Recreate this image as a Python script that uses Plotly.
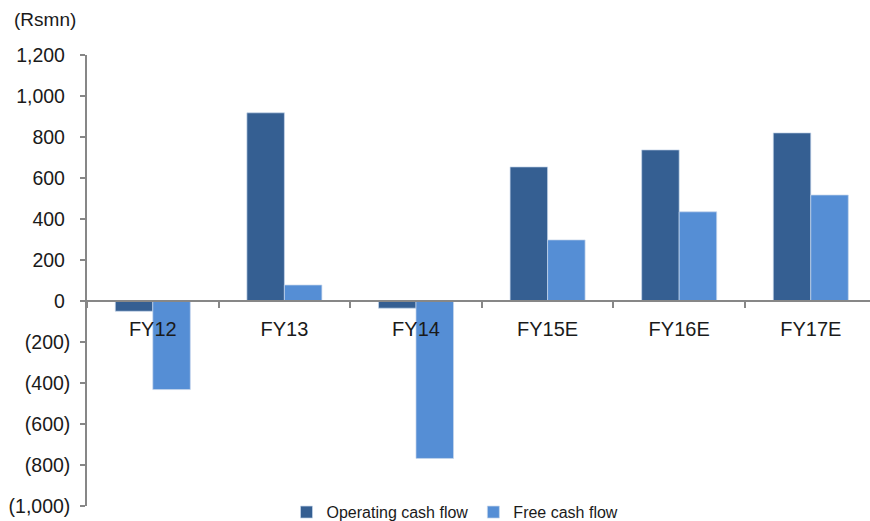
import plotly.graph_objects as go

# Cash flow summary (Rs mn)
years = ["FY12", "FY13", "FY14", "FY15E", "FY16E", "FY17E"]
operating_cf = [-50, 918, -35, 654, 737, 820]
free_cf = [-432, 78, -768, 298, 435, 517]

y_ticks = [1200, 1000, 800, 600, 400, 200, 0, -200, -400, -600, -800, -1000]
y_tick_text = ["1,200", "1,000", "800", "600", "400", "200", "0",
               "(200)", "(400)", "(600)", "(800)", "(1,000)"]

DARK = "#355f92"
LIGHT = "#558ed5"
AXIS = "#878787"
FONT = "Liberation Sans, Arial, sans-serif"

# accounting-style alignment: positives leave room for the closing bracket
y_tick_labels = [t if t.startswith("(") else t + "\u00a0" for t in y_tick_text]

fig = go.Figure()
fig.add_trace(go.Bar(
    x=years, y=operating_cf, name="Operating cash flow",
    marker=dict(color=DARK, line=dict(color="rgba(200,215,235,0.7)", width=1)),
))
fig.add_trace(go.Bar(
    x=years, y=free_cf, name="Free cash flow",
    marker=dict(color=LIGHT, line=dict(color="rgba(200,215,235,0.7)", width=1)),
))

y_min, y_max = -1000, 1200
zero_pos = (0 - y_min) / (y_max - y_min)

fig.update_layout(
    width=870, height=521,
    margin=dict(l=87, r=0, t=55, b=15, autoexpand=False),
    paper_bgcolor="white", plot_bgcolor="white",
    font=dict(family=FONT, color="#1a1a1a", size=20),
    barmode="group", bargap=0.43, bargroupgap=0,
    showlegend=True,
    legend=dict(
        orientation="h", xanchor="center", x=0.47,
        yanchor="top", y=0.024,
        font=dict(size=16, family=FONT),
        bgcolor="rgba(0,0,0,0)", itemclick=False,
    ),
    xaxis=dict(
        type="category", range=[-0.5, 5.45],
        anchor="free", position=zero_pos,
        showline=True, linecolor=AXIS, linewidth=2,
        ticks="outside", tickson="boundaries", ticklen=6, tickcolor=AXIS, tickwidth=1.5,
        showgrid=False, zeroline=False,
        tickfont=dict(size=20), ticklabelstandoff=10,
    ),
    yaxis=dict(
        range=[y_min, y_max], domain=[0, 1],
        tickvals=y_ticks, ticktext=y_tick_labels,
        showline=True, linecolor=AXIS, linewidth=1.5,
        ticks="outside", ticklen=5, tickcolor=AXIS, tickwidth=1.5,
        showgrid=False, zeroline=False,
        tickfont=dict(size=19.5), ticklabelstandoff=6,
    ),
    annotations=[dict(
        text="(Rsmn)", xref="paper", yref="paper",
        x=(12 - 87) / 783, y=1 + (55 - 20) / 450.7,
        xanchor="left", yanchor="middle", showarrow=False,
        font=dict(size=19, family=FONT),
    )],
)

fig.write_html("out.html")
